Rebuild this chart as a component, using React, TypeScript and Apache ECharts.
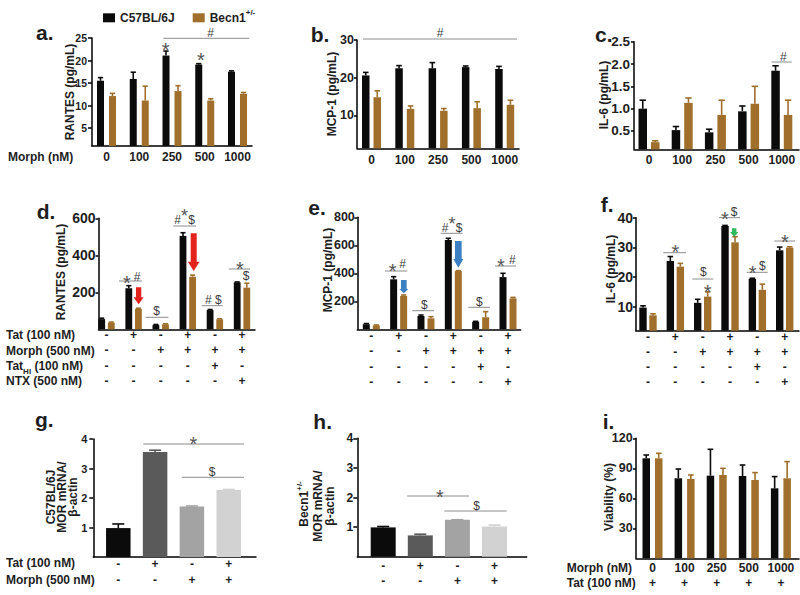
import { useEffect, useRef } from 'react';
import * as echarts from 'echarts';

const FONT = '"Liberation Sans", Arial, Helvetica, sans-serif';
const WT = 'C57BL/6J';
const HET = 'Becn1+/-';
const BLACK = '#0b0b0b';
const BROWN = '#a06f2c';
const INK = '#1e1e1e';
const ANN = '#555555';
const SYM = '#3a3a3a';
const RULE = '#8c8c8c';
const RED = '#e3221b';
const BLUE = '#3a80c3';
const GREEN = '#2fb85c';
const MOR_GRAYS = ['#0b0b0b', '#5a5a5a', '#a3a3a3', '#d2d2d2'];

// ---------- data ----------
const doseLabels = ['0', '100', '250', '500', '1000'];
// a. RANTES (pg/mL) by morphine dose
const rantesDoseWT = [15.5, 15.9, 21.1, 19.1, 17.5];
const rantesDoseWTErr = [0.7, 1.5, 1.0, 0.2, 0.2];
const rantesDoseHet = [12.1, 11.1, 13.2, 11.1, 12.6];
const rantesDoseHetErr = [0.6, 3.2, 1.2, 0.4, 0.3];
// b. MCP-1 (pg/mL) by morphine dose
const mcpDoseWT = [20.6, 22.5, 22.5, 22.8, 22.3];
const mcpDoseWTErr = [0.8, 0.7, 1.5, 0.3, 0.7];
const mcpDoseHet = [14.8, 11.7, 11.2, 11.9, 12.8];
const mcpDoseHetErr = [1.7, 0.8, 0.6, 1.7, 1.2];
// c. IL-6 (pg/mL) by morphine dose
const il6DoseWT = [1.0, 0.52, 0.47, 0.94, 1.85];
const il6DoseWTErr = [0.19, 0.08, 0.07, 0.12, 0.11];
const il6DoseHet = [0.25, 1.13, 0.86, 1.11, 0.86];
const il6DoseHetErr = [0.03, 0.11, 0.33, 0.39, 0.33];

// d-f treatment table
const tatRow = ['-', '+', '-', '+', '-', '+'];
const morphRow = ['-', '-', '+', '+', '+', '+'];
const tatHIRow = ['-', '-', '-', '-', '+', '-'];
const ntxRow = ['-', '-', '-', '-', '-', '+'];
// d. RANTES
const rantesTxWT = [55, 222, 23, 505, 104, 254];
const rantesTxWTErr = [5, 14, 3, 17, 3, 2];
const rantesTxHet = [36, 110, 27, 284, 54, 225];
const rantesTxHetErr = [3, 4, 3, 9, 3, 24];
// e. MCP-1
const mcpTxWT = [36, 357, 95, 638, 54, 373];
const mcpTxWTErr = [5, 19, 7, 12, 3, 27];
const mcpTxHet = [28, 238, 78, 416, 86, 221];
const mcpTxHetErr = [3, 7, 12, 3, 40, 7];
// f. IL-6
const il6TxWT = [9.7, 25.4, 11.3, 37.2, 19.4, 29.0];
const il6TxWTErr = [0.6, 1.5, 1.2, 0.2, 0.2, 1.1];
const il6TxHet = [7.1, 23.5, 13.4, 31.7, 15.7, 29.9];
const il6TxHetErr = [0.5, 1.1, 1.6, 1.9, 1.9, 0.3];

// g-h MOR mRNA / beta-actin
const morTatRow = ['-', '+', '-', '+'];
const morMorphRow = ['-', '-', '+', '+'];
const morWT = [0.98, 3.56, 1.71, 2.27];
const morWTErr = [0.14, 0.06, 0.02, 0.02];
const morHet = [0.99, 0.72, 1.25, 1.02];
const morHetErr = [0.03, 0.04, 0.0, 0.05];

// i. viability
const viaTatRow = ['+', '+', '+', '+', '+'];
const viaWT = [100, 80, 82.6, 82.3, 70];
const viaWTErr = [3.3, 9.3, 26.4, 11, 11.7];
const viaHet = [100, 79.3, 83.3, 78.3, 80];
const viaHetErr = [5, 4, 6.7, 7.4, 16.7];

// ---------- layout ----------
type Geom = { left: number; right: number; top: number; bottom: number; c0: number; step: number };
type PanelDef = {
  geom: Geom;
  yMin: number;
  yMax: number;
  ticks: number[];
  dec: number;
  tickFont: number;
  tickMargin: number;
  tickLen: number;
  rows: string[][];
  lh: number;
  margin: number;
  bw: number;
  gap?: number;
  pair?: number[][];
  single?: number[][];
};

const PANELS: PanelDef[] = [
  { geom: { left: 92, right: 252, top: 38, bottom: 146, c0: 106.5, step: 32.75 }, yMin: 1, yMax: 25, ticks: [5, 10, 15, 20, 25], dec: 0,
    tickFont: 10.5, tickMargin: 5, tickLen: 4,
    rows: [doseLabels], lh: 12, margin: 5, bw: 7, gap: 5, pair: [rantesDoseWT, rantesDoseWTErr, rantesDoseHet, rantesDoseHetErr] },
  { geom: { left: 357, right: 519, top: 40, bottom: 148.3, c0: 371.5, step: 33.3 }, yMin: 1.24, yMax: 30, ticks: [10, 20, 30], dec: 0,
    tickFont: 12.5, tickMargin: 3, tickLen: 3,
    rows: [doseLabels], lh: 12, margin: 5.5, bw: 7.5, gap: 4, pair: [mcpDoseWT, mcpDoseWTErr, mcpDoseHet, mcpDoseHetErr] },
  { geom: { left: 634, right: 799, top: 41.7, bottom: 149.3, c0: 649, step: 33.2 }, yMin: 0.09, yMax: 2.5, ticks: [0.5, 1, 1.5, 2, 2.5], dec: 1,
    tickFont: 13.5, tickMargin: 4, tickLen: 3,
    rows: [doseLabels], lh: 12, margin: 4.7, bw: 8.5, gap: 4, pair: [il6DoseWT, il6DoseWTErr, il6DoseHet, il6DoseHetErr] },
  { geom: { left: 98.5, right: 255, top: 218.3, bottom: 329.3, c0: 106.5, step: 27.1 }, yMin: 0, yMax: 600, ticks: [200, 400, 600], dec: 0,
    tickFont: 14, tickMargin: 3, tickLen: 3,
    rows: [tatRow, morphRow, tatHIRow, ntxRow], lh: 15.33, margin: -2, bw: 6.8, gap: 2.8, pair: [rantesTxWT, rantesTxWTErr, rantesTxHet, rantesTxHetErr] },
  { geom: { left: 357.3, right: 520.7, top: 217.3, bottom: 329.3, c0: 371.3, step: 27.34 }, yMin: 0, yMax: 800, ticks: [200, 400, 600, 800], dec: 0,
    tickFont: 12.5, tickMargin: 2.5, tickLen: 3,
    rows: [tatRow, morphRow, tatHIRow, ntxRow], lh: 15.5, margin: -1.4, bw: 7, gap: 3, pair: [mcpTxWT, mcpTxWTErr, mcpTxHet, mcpTxHetErr] },
  { geom: { left: 636, right: 799, top: 217.7, bottom: 330.7, c0: 648, step: 27.34 }, yMin: 1.91, yMax: 40, ticks: [10, 20, 30, 40], dec: 0,
    tickFont: 14, tickMargin: 3, tickLen: 3,
    rows: [tatRow, morphRow, tatHIRow, ntxRow], lh: 15.2, margin: -1.6, bw: 7.4, gap: 2.6, pair: [il6TxWT, il6TxWTErr, il6TxHet, il6TxHetErr] },
  { geom: { left: 93.3, right: 256, top: 439, bottom: 557, c0: 118.3, step: 36.8 }, yMin: 0, yMax: 4, ticks: [1, 2, 3, 4], dec: 0,
    tickFont: 11, tickMargin: 6, tickLen: 4,
    rows: [morTatRow, morMorphRow], lh: 16.7, margin: -1.8, bw: 24.5, single: [morWT, morWTErr] },
  { geom: { left: 357.3, right: 526.7, top: 438.3, bottom: 556.7, c0: 383.2, step: 37.1 }, yMin: 0, yMax: 4, ticks: [1, 2, 3, 4], dec: 0,
    tickFont: 12, tickMargin: 4, tickLen: 4,
    rows: [morTatRow, morMorphRow], lh: 15.3, margin: 1.3, bw: 25, single: [morHet, morHetErr] },
  { geom: { left: 636, right: 799, top: 438.3, bottom: 558.3, c0: 652.5, step: 32.1 }, yMin: 0, yMax: 120, ticks: [30, 60, 90, 120], dec: 0,
    tickFont: 12.5, tickMargin: 3.3, tickLen: 3,
    rows: [doseLabels, viaTatRow], lh: 15, margin: 2.5, bw: 7.5, gap: 5, pair: [viaWT, viaWTErr, viaHet, viaHetErr] },
];

const labelFont = { fontFamily: FONT, fontWeight: 'bold' as const, fontSize: 12, color: INK };

function errSeries(k: number, means: number[], errs: number[], offset: number, colors: string | string[], capW: number, name: string) {
  return {
    type: 'custom',
    name,
    xAxisIndex: k,
    yAxisIndex: k,
    silent: true,
    z: 4,
    data: means.map((m, i) => [i, m, m + errs[i]]),
    encode: { x: 0, y: [1, 2] },
    renderItem: (params: any, api: any) => {
      const i = api.value(0);
      const base = api.coord([i, api.value(1)]);
      const top = api.coord([i, api.value(2)]);
      const cx = base[0] + offset;
      const color = Array.isArray(colors) ? colors[params.dataIndex] : colors;
      return {
        type: 'group',
        children: [
          { type: 'line', shape: { x1: cx, y1: base[1], x2: cx, y2: top[1] }, style: { stroke: color, lineWidth: 1.6 } },
          { type: 'line', shape: { x1: cx - capW / 2, y1: top[1], x2: cx + capW / 2, y2: top[1] }, style: { stroke: color, lineWidth: 1.6 } },
        ],
      };
    },
  };
}

function txt(x: number, y: number, text: string, opts: any = {}) {
  const align = opts.align || 'left';
  return {
    type: 'text',
    x,
    y,
    rotation: opts.rotation || 0,
    silent: true,
    z: 10,
    style: {
      text,
      fill: opts.color || INK,
      fontSize: opts.size || 12,
      fontWeight: opts.weight || 'bold',
      fontFamily: opts.family || FONT,
      align,
      verticalAlign: 'middle',
      textAlign: align,
      textVerticalAlign: 'middle',
      rich: opts.rich,
    },
  };
}

function hline(x1: number, x2: number, y: number) {
  return { type: 'line', silent: true, z: 10, shape: { x1, y1: y, x2, y2: y }, style: { stroke: RULE, lineWidth: 1 } };
}

// a glyph centred at (x, y); the asterisk sits high in its em box, so it is shifted down
function sym(ch: string, x: number, y: number, size = 20) {
  if (ch === '*') return txt(x, y + size * 0.3, '*', { size, weight: 'normal', color: ANN, align: 'center' });
  return txt(x, y, ch, { size: 12, weight: 'normal', color: SYM, align: 'center' });
}

function arrow(cx: number, top: number, hs: number, tip: number, sw: number, hw: number, color: string) {
  return {
    type: 'polygon',
    silent: true,
    z: 10,
    shape: {
      points: [
        [cx - sw / 2, top], [cx + sw / 2, top], [cx + sw / 2, hs], [cx + hw / 2, hs],
        [cx, tip], [cx - hw / 2, hs], [cx - sw / 2, hs],
      ],
    },
    style: { fill: color },
  };
}

function buildOption() {
  const grid: any[] = [];
  const xAxis: any[] = [];
  const yAxis: any[] = [];
  const series: any[] = [];

  PANELS.forEach((p, k) => {
    const g = p.geom;
    grid.push({ left: g.left, top: g.top, width: g.right - g.left, height: g.bottom - g.top, containLabel: false, outerBoundsMode: 'none' });
    const n = p.rows[0].length;
    const idx = Array.from({ length: n }, (_, i) => i);
    xAxis.push({
      type: 'value',
      gridIndex: k,
      min: (g.left - g.c0) / g.step,
      max: (g.right - g.c0) / g.step,
      splitLine: { show: false },
      axisTick: { show: false },
      axisLine: { show: true, onZero: false, lineStyle: { color: '#000', width: 1.5 } },
      axisLabel: {
        ...labelFont,
        customValues: idx,
        lineHeight: p.lh,
        margin: p.margin,
        hideOverlap: false,
        formatter: (v: number) => p.rows.map((r) => r[Math.round(v)]).join('\n'),
      },
    });
    yAxis.push({
      type: 'value',
      gridIndex: k,
      min: p.yMin,
      max: p.yMax,
      splitLine: { show: false },
      axisLine: { show: true, onZero: false, lineStyle: { color: '#000', width: 1.5 } },
      axisTick: { show: true, length: p.tickLen, customValues: p.ticks, lineStyle: { color: '#000', width: 1.5 } },
      axisLabel: {
        ...labelFont,
        fontSize: p.tickFont,
        customValues: p.ticks,
        margin: p.tickMargin,
        formatter: (v: number) => v.toFixed(p.dec),
      },
    });

    if (p.pair) {
      const [wt, wtErr, het, hetErr] = p.pair;
      const gap = p.gap || 0;
      const off = (p.bw + gap) / 2;
      const barGap = `${(gap / p.bw) * 100}%`;
      series.push({ type: 'bar', name: WT, xAxisIndex: k, yAxisIndex: k, barWidth: p.bw, barGap, itemStyle: { color: BLACK }, silent: true, data: wt.map((v, i) => [i, v]) });
      series.push({ type: 'bar', name: HET, xAxisIndex: k, yAxisIndex: k, barWidth: p.bw, barGap, itemStyle: { color: BROWN }, silent: true, data: het.map((v, i) => [i, v]) });
      series.push(errSeries(k, wt, wtErr, -off, BLACK, p.bw * 0.75, `${WT} SEM ${k}`));
      series.push(errSeries(k, het, hetErr, off, BROWN, p.bw * 0.75, `${HET} SEM ${k}`));
    } else if (p.single) {
      const [vals, errs] = p.single;
      const nm = k === 6 ? 'MOR mRNA C57BL/6J' : 'MOR mRNA Becn1+/-';
      series.push({
        type: 'bar', name: nm, xAxisIndex: k, yAxisIndex: k, barWidth: p.bw, silent: true,
        data: vals.map((v, i) => ({ value: [i, v], itemStyle: { color: MOR_GRAYS[i] } })),
      });
      series.push(errSeries(k, vals, errs, 0, MOR_GRAYS, 12, `${nm} SEM`));
    }
  });

  const supRich = {
    n: { fontSize: 12, fontWeight: 'bold', fontFamily: FONT, fill: INK, color: INK, lineHeight: 18 },
    s: { fontSize: 8, fontWeight: 'bold', fontFamily: FONT, fill: INK, color: INK, verticalAlign: 'top', lineHeight: 8 },
    b: { fontSize: 8, fontWeight: 'bold', fontFamily: FONT, fill: INK, color: INK, verticalAlign: 'bottom', lineHeight: 8 },
  };

  const rot = Math.PI / 2;
  const graphic: any[] = [
    // panel letters
    ...[
      ['a.', 36, 39.3], ['b.', 310.7, 41.7], ['c.', 595, 41.7],
      ['d.', 36.7, 218.3], ['e.', 308.3, 215], ['f.', 600.7, 211.7],
      ['g.', 35, 426.7], ['h.', 313.3, 428.3], ['i.', 602.7, 428.3],
    ].map(([t, x, b]) => txt(x as number, (b as number) - 7.3, t as string, { size: 21 })),
    // y axis titles
    txt(69.5, 92, 'RANTES (pg/mL)', { rotation: rot, align: 'center' }),
    txt(331.5, 94, 'MCP-1 (pg/mL)', { rotation: rot, align: 'center' }),
    txt(603.5, 95, 'IL-6 (pg/mL)', { rotation: rot, align: 'center' }),
    txt(60.5, 272, 'RANTES (pg/mL)', { rotation: rot, align: 'center' }),
    txt(328, 270, 'MCP-1 (pg/mL)', { rotation: rot, align: 'center' }),
    txt(610.5, 269, 'IL-6 (pg/mL)', { rotation: rot, align: 'center' }),
    txt(50.5, 497, 'C57BL/6J', { rotation: rot, align: 'center' }),
    txt(61.5, 497, 'MOR mRNA/', { rotation: rot, align: 'center' }),
    txt(72.5, 497, 'β-actin', { rotation: rot, align: 'center' }),
    txt(304, 504, '{n|Becn1}{s|+/-}', { rotation: rot, align: 'center', rich: supRich }),
    txt(318.3, 506, 'MOR mRNA/', { rotation: rot, align: 'center' }),
    txt(329.5, 506, 'β-actin', { rotation: rot, align: 'center' }),
    txt(609, 497, 'Viability (%)', { rotation: rot, align: 'center' }),
    // row labels
    txt(8, 157, 'Morph (nM)'),
    txt(6, 335, 'Tat (100 nM)'),
    txt(6, 350.7, 'Morph (500 nM)'),
    txt(6, 366, '{n|Tat}{b|HI}{n| (100 nM)}', { rich: supRich }),
    txt(6, 381, 'NTX (500 nM)'),
    txt(6, 563.3, 'Tat (100 nM)'),
    txt(6, 580, 'Morph (500 nM)'),
    txt(566.7, 568.3, 'Morph (nM)'),
    txt(566.7, 583.3, 'Tat (100 nM)'),
    // a
    hline(163.3, 249.3, 38.3), sym('#', 210.7, 32.7), sym('*', 165.7, 44.3), sym('*', 201, 54.3),
    // b
    hline(363, 517, 39), sym('#', 440, 33.3),
    // c
    hline(771.7, 791.7, 62), sym('#', 783.3, 56.7),
    // d
    hline(119, 142, 281), sym('*', 127, 276.7), sym('#', 137, 276.7),
    arrow(138.6, 287.3, 297.3, 304.3, 5.3, 10, RED),
    hline(145.7, 168.3, 317.3), sym('$', 156.7, 311),
    hline(173.3, 196, 226), sym('*', 184.5, 211, 18), sym('#', 177.5, 220), sym('$', 191.5, 220),
    arrow(193.7, 233.3, 261.7, 271, 6, 11.7, RED),
    hline(201.7, 222.7, 305.7), sym('#', 208.3, 300), sym('$', 218.3, 300),
    hline(228.7, 250, 269), sym('*', 240, 263.3), sym('$', 246, 275.5),
    // e
    hline(385, 407.3, 271), sym('*', 392.7, 265), sym('#', 402.7, 264.3),
    arrow(403.8, 280, 289, 293.3, 5.7, 9, BLUE),
    hline(412.3, 434, 310.7), sym('$', 424.3, 305),
    hline(440.7, 462.7, 233.3), sym('*', 452, 218.3, 18), sym('#', 445, 227.7), sym('$', 459, 227.7),
    arrow(458.3, 241, 259, 267.7, 6.7, 10, BLUE),
    hline(468.3, 490, 307.3), sym('$', 479.3, 301.7),
    hline(495, 516, 266), sym('*', 501, 260), sym('#', 512.3, 260),
    // f
    hline(663.3, 686, 252.7), sym('*', 675.3, 246),
    hline(692.3, 713.3, 279), sym('$', 703.3, 272.3), sym('*', 707.7, 286),
    hline(719, 740, 217.7), sym('*', 725, 213.3), sym('$', 734, 211.7),
    arrow(734.2, 228.3, 232, 236.7, 4.3, 8.3, GREEN),
    hline(746.7, 767.7, 272.3), sym('*', 752.7, 266.7), sym('$', 762.3, 266),
    hline(774.3, 795, 241), sym('*', 785, 236),
    // g
    hline(143.3, 244, 444), sym('*', 193.3, 438.3),
    hline(181.7, 244, 477.3), sym('$', 212, 471.7),
    // h
    hline(407.3, 469, 496), sym('*', 440, 490.7),
    hline(444.3, 506.7, 511), sym('$', 476.7, 506),
  ];

  return {
    animation: false,
    backgroundColor: '#ffffff',
    legend: {
      data: [WT, HET],
      left: 98,
      top: 3.8,
      icon: 'rect',
      itemWidth: 12,
      itemHeight: 9,
      itemGap: 18,
      selectedMode: false,
      formatter: (name: string) => (name === HET ? '{n|Becn1}{s|+/-}' : `{n|${name}}`),
      textStyle: { rich: supRich },
    },
    grid,
    xAxis,
    yAxis,
    series,
    graphic,
  };
}

export default function App() {
  const ref = useRef<HTMLDivElement>(null);
  useEffect(() => {
    if (!ref.current) return;
    const chart = echarts.init(ref.current, null, { renderer: 'svg' });
    chart.setOption(buildOption() as any);
    return () => chart.dispose();
  }, []);
  return (
    <div
      ref={ref}
      style={{ position: 'fixed', left: 0, top: 0, width: 800, height: 595, background: '#fff' }}
    />
  );
}
